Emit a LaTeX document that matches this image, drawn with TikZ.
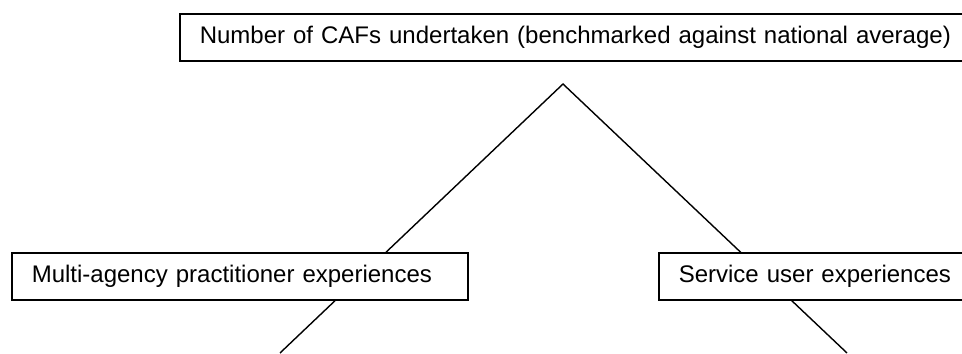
\documentclass[tikz,border=0pt]{standalone}
\usepackage{fontspec}
\setmainfont{Liberation Sans}
\usetikzlibrary{positioning}
\tikzset{
  level/.style={draw, line width=0.8pt, fill=white, anchor=north west,
              inner xsep=10pt, inner ysep=0pt, minimum height=23.5pt,
              align=left, font=\fontsize{12}{14}\selectfont},
  branch/.style={line width=0.7pt},
}

\begin{document}
\begin{tikzpicture}[x=0.5pt,y=-0.5pt]
        \useasboundingbox (0,0) rectangle (962,353);
        \clip (0,0) rectangle (962,353);
        \coordinate (apex) at (563,84);
        \coordinate (lend) at (280,353);
        \coordinate (rend) at (847,353);
        \draw[branch](lend)--(apex)--(rend);
        \node[level,text width=390pt](caf) at (179,13){Number of CAFs undertaken (benchmarked against national average)};
        \node[level,text width=208pt](practice) at (11,252){Multi-agency practitioner experiences};
        \node[level,text width=151pt](users) at (658,252){Service user experiences};
      \end{tikzpicture}
\end{document}
